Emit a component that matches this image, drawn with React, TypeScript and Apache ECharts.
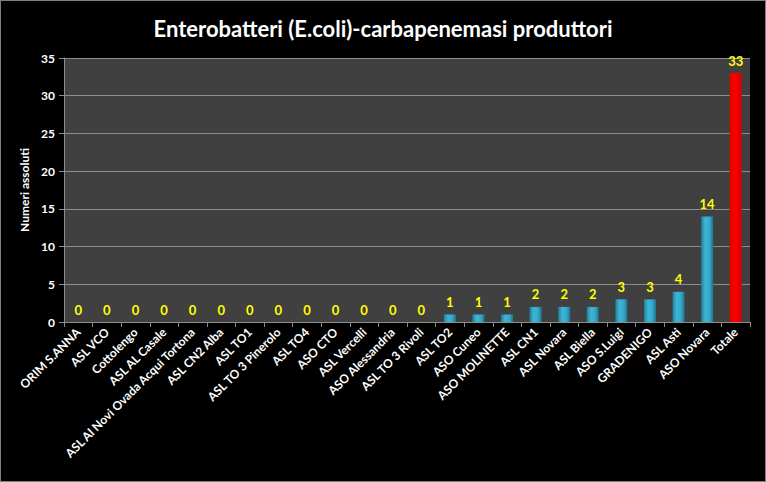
import React, { useEffect, useRef } from "react";
import * as echarts from "echarts";

const categories = [
  "ORIM S.ANNA", "ASL VCO", "Cottolengo", "ASL AL Casale", "ASL Al Novi Ovada Acqui Tortona",
  "ASL CN2 Alba", "ASL TO1", "ASL TO 3 Pinerolo", "ASL TO4", "ASO CTO", "ASL Vercelli",
  "ASO Alessandria", "ASL TO 3 Rivoli", "ASL TO2", "ASO Cuneo", "ASO MOLINETTE", "ASL CN1",
  "ASL Novara", "ASL Biella", "ASO S.Luigi", "GRADENIGO", "ASL Asti", "ASO Novara", "Totale",
];
const values = [0, 0, 0, 0, 0, 0, 0, 0, 0, 0, 0, 0, 0, 1, 1, 1, 2, 2, 2, 3, 3, 4, 14, 33];
const totalCategory = "Totale";

export default function App() {
  const ref = useRef<HTMLDivElement>(null);
  useEffect(() => {
    if (!ref.current) return;
    const chart = echarts.init(ref.current, null, { renderer: "svg" });
    const blue = new echarts.graphic.LinearGradient(0, 0, 1, 0, [
      { offset: 0, color: "#1f7f9c" },
      { offset: 0.35, color: "#3fb6d6" },
      { offset: 0.7, color: "#35a8c8" },
      { offset: 1, color: "#1d7591" },
    ]);
    const red = new echarts.graphic.LinearGradient(0, 0, 1, 0, [
      { offset: 0, color: "#e00000" },
      { offset: 0.4, color: "#ff0000" },
      { offset: 1, color: "#d80000" },
    ]);
    chart.setOption({
      animation: false,
      backgroundColor: "#000000",
      title: {
        text: "Enterobatteri (E.coli)-carbapenemasi produttori",
        left: "center",
        top: 11,
        textStyle: { color: "#ffffff", fontSize: 22, fontWeight: "bold", fontFamily: "Lato" },
      },
      grid: { left: 63, right: 15, top: 57, bottom: 159, show: true, backgroundColor: "#404040", borderWidth: 0 },
      xAxis: {
        type: "category",
        data: categories,
        axisLine: { lineStyle: { color: "#8c8c8c", width: 1 } },
        axisTick: { show: true, alignWithLabel: false, length: 5, lineStyle: { color: "#8c8c8c" } },
        axisLabel: {
          rotate: 45,
          interval: 0,
          color: "#ffffff",
          fontWeight: "bold",
          fontSize: 12,
          fontFamily: "Lato",
          margin: 8,
        },
      },
      yAxis: {
        type: "value",
        min: 0,
        max: 35,
        interval: 5,
        name: "Numeri assoluti",
        nameLocation: "middle",
        nameGap: 34,
        nameRotate: 90,
        nameTextStyle: { color: "#ffffff", fontWeight: "bold", fontSize: 12, fontFamily: "Lato" },
        axisLine: { show: true, lineStyle: { color: "#8c8c8c" } },
        axisTick: { show: true, length: 5, lineStyle: { color: "#8c8c8c" } },
        axisLabel: { color: "#ffffff", fontWeight: "bold", fontSize: 12, fontFamily: "Lato", margin: 9 },
        splitLine: { lineStyle: { color: "#8c8c8c", width: 1 } },
      },
      series: [
        {
          type: "bar",
          barWidth: 12,
          data: values.map((v, i) => ({
            value: v,
            itemStyle: { color: categories[i] === totalCategory ? red : blue },
          })),
          label: {
            show: true,
            position: "top",
            distance: 6,
            color: "#ffff00",
            fontWeight: "bold",
            fontSize: 13,
            fontFamily: "Lato",
          },
        },
      ],
    });
    return () => chart.dispose();
  }, []);
  return (
    <div
      ref={ref}
      style={{ position: "fixed", left: 0, top: 0, width: 766, height: 482, boxSizing: "border-box", border: "1px solid #7f7f7f" }}
    />
  );
}
